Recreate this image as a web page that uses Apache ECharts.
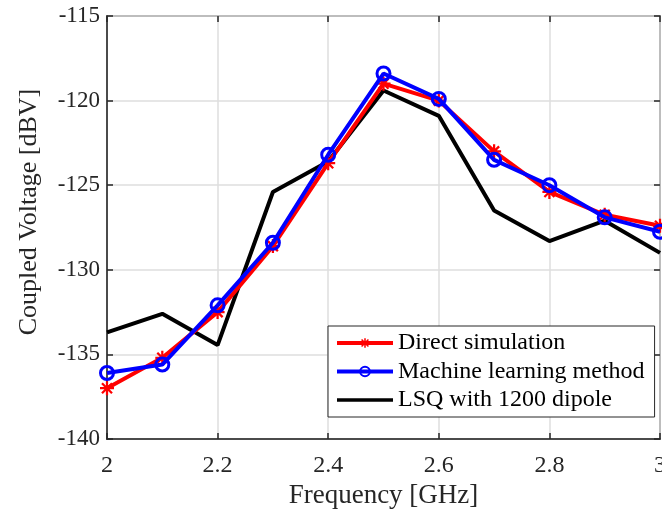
<!DOCTYPE html>
<html><head><meta charset="utf-8">
<script src="https://cdn.jsdelivr.net/npm/echarts@6/dist/echarts.min.js"></script>
<style>html,body{margin:0;padding:0;background:#fff}#c{width:662px;height:511px}</style>
</head><body><div id="c"></div>
<script>
var freqs = [2.0, 2.1, 2.2, 2.3, 2.4, 2.5, 2.6, 2.7, 2.8, 2.9, 3.0];
var directSim = [-137.0, -135.2, -132.5, -128.6, -123.7, -119.0, -120.0, -123.0, -125.4, -126.75, -127.4];
var mlMethod = [-136.1, -135.6, -132.1, -128.4, -123.2, -118.4, -119.9, -123.5, -125.0, -126.9, -127.75];
var lsq1200 = [-133.7, -132.6, -134.45, -125.4, -123.6, -119.4, -120.9, -126.5, -128.3, -127.1, -129.0];
var seriesNames = ['Direct simulation', 'Machine learning method', 'LSQ with 1200 dipole'];
var xLabel = 'Frequency [GHz]';
var yLabel = 'Coupled Voltage [dBV]';

function pairs(v){ return freqs.map(function(f,i){ return [f, v[i]]; }); }
var FONT = 'Liberation Serif';
var star = 'path://M8.4,0H11.6V20H8.4Z M0,8.4H20V11.6H0Z M1.7,4L4,1.7L18.3,16L16,18.3Z M16,1.7L18.3,4L4,18.3L1.7,16Z';
var lineIcon = 'path://M0,0h0.01v0.01h-0.01Z M0,4.2H56V7.8H0Z M55.99,11.99h0.01v0.01h-0.01Z';
var axisCol = '#262626';
var txtCol = '#262626';
var chart = echarts.init(document.getElementById('c'));
chart.setOption({
  animation: false,
  backgroundColor: '#fff',
  grid: {left: 107, right: 2, top: 16, bottom: 72, show: true, borderColor: axisCol, borderWidth: 1.5,
    backgroundColor: 'transparent', containLabel: false, outerBoundsMode: 'none'},
  legend: {
    left: 328, top: 326, orient: 'vertical', itemWidth: 56, itemHeight: 12, itemGap: 4.5,
    padding: [5, 10, 5, 7], borderColor: axisCol, borderWidth: 1, backgroundColor: '#fff',
    textStyle: {fontFamily: FONT, fontSize: 24, color: '#000'},
    lineStyle: {width: 4},
    data: [{name: seriesNames[0]}, {name: seriesNames[1]}, {name: seriesNames[2], icon: lineIcon}]
  },
  graphic: [{
    type: 'text', x: 29, y: 212, rotation: Math.PI / 2,
    style: {text: yLabel, fontFamily: FONT, fontSize: 26, fill: txtCol, textAlign: 'center', textVerticalAlign: 'middle'}
  }],
  xAxis: [{
    type: 'value', min: 2, max: 3, interval: 0.2,
    name: xLabel, nameLocation: 'middle', nameGap: 41,
    nameTextStyle: {fontFamily: FONT, fontSize: 27, color: txtCol},
    axisLine: {lineStyle: {color: axisCol, width: 1.5}},
    axisTick: {inside: true, length: 6, lineStyle: {color: axisCol, width: 1.5}},
    axisLabel: {fontFamily: FONT, fontSize: 24, color: txtCol, margin: 15,
      formatter: function(v){ return String(Math.round(v*10)/10); }},
    splitLine: {show: true, lineStyle: {color: '#dedede', width: 1.5}}
  },{
    type: 'value', min: 2, max: 3, interval: 0.2, position: 'top',
    axisLine: {show: false}, axisLabel: {show: false}, splitLine: {show: false},
    axisTick: {inside: true, length: 6, lineStyle: {color: axisCol, width: 1.5}}
  }],
  yAxis: [{
    type: 'value', min: -140, max: -115, interval: 5,
    axisLine: {show: true, lineStyle: {color: axisCol, width: 1.5}},
    axisTick: {show: true, inside: true, length: 6, lineStyle: {color: axisCol, width: 1.5}},
    axisLabel: {fontFamily: FONT, fontSize: 23, color: txtCol, margin: 7},
    splitLine: {show: true, lineStyle: {color: '#dedede', width: 1.5}}
  },{
    type: 'value', min: -140, max: -115, interval: 5, position: 'right',
    axisLine: {show: false}, axisLabel: {show: false}, splitLine: {show: false},
    axisTick: {show: true, inside: true, length: 6, lineStyle: {color: axisCol, width: 1.5}}
  }],
  series: [{
    name: seriesNames[0], type: 'line', data: pairs(directSim),
    symbol: star, symbolSize: 14, showAllSymbol: true,
    lineStyle: {color: '#ff0000', width: 4}, itemStyle: {color: '#ff0000', borderWidth: 0}, z: 3
  },{
    name: seriesNames[1], type: 'line', data: pairs(mlMethod),
    symbol: 'circle', symbolSize: 13, showAllSymbol: true,
    lineStyle: {color: '#0000ff', width: 4}, itemStyle: {color: 'rgba(0,0,0,0)', borderColor: '#0000ff', borderWidth: 3}, z: 4
  },{
    name: seriesNames[2], type: 'line', data: pairs(lsq1200),
    symbol: 'none', lineStyle: {color: '#000000', width: 4}, itemStyle: {color: '#000'}, z: 2
  }]
});
</script></body></html>
